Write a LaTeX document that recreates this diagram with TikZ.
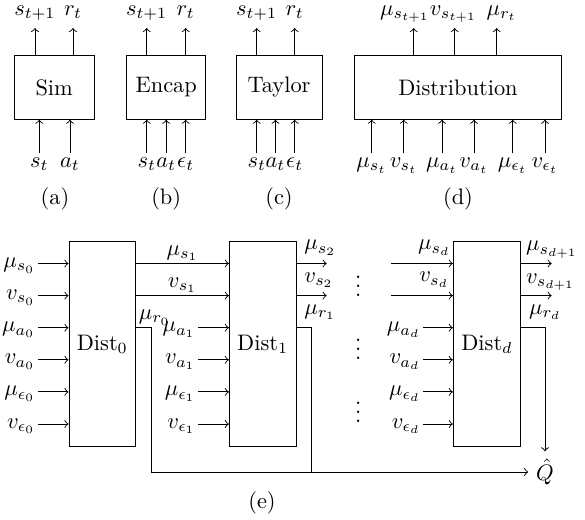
\documentclass[tikz,border=0pt]{standalone}
\begin{document}
\def\pxu{0.4464pt}
\begin{tikzpicture}[x=0.4464pt, y=-0.4464pt,
  blk/.style={draw, inner sep=0pt},
  olab/.style={anchor=south, inner sep=3pt, text depth=2.5pt},
  ilab/.style={anchor=north, inner sep=2pt},
  llab/.style={anchor=east, inner sep=1pt, text height=5.5pt, text depth=1.9pt},
  tag/.style={inner sep=0pt}]
\useasboundingbox (0,0) rectangle (585,520);

% ---------- (a) Sim ----------
\node[blk, minimum width=80*\pxu, minimum height=63.5*\pxu] (sim) at (54.2,87.5) {Sim};
\node[olab] (ao1) at (35,28) {$s_{t+1}$};
\node[olab] (ao2) at (73,28) {$r_t$};
\draw[->] (ao1 |- sim.north) -- (ao1.south);
\draw[->] (ao2 |- sim.north) -- (ao2.south);
\node[ilab] (ai1) at (39.3,153) {$s_t$};
\node[ilab] (ai2) at (70,153) {$a_t$};
\draw[->] (ai1.north) -- (ai1 |- sim.south);
\draw[->] (ai2.north) -- (ai2 |- sim.south);
\node[tag] (capa) at (55,199) {(a)};

% ---------- (b) Encap ----------
\node[blk, minimum width=79*\pxu, minimum height=63.5*\pxu] (enc) at (166.2,87.5) {Encap};
\node[olab] (bo1) at (146.7,28) {$s_{t+1}$};
\node[olab] (bo2) at (185.7,28) {$r_t$};
\draw[->] (bo1 |- enc.north) -- (bo1.south);
\draw[->] (bo2 |- enc.north) -- (bo2.south);
\node[ilab] (bi1) at (146.7,153) {$s_t$};
\node[ilab] (bi2) at (166.2,153) {$a_t$};
\node[ilab] (bi3) at (185.7,153) {$\epsilon_t$};
\draw[->] (bi1.north) -- (bi1 |- enc.south);
\draw[->] (bi2.north) -- (bi2 |- enc.south);
\draw[->] (bi3.north) -- (bi3 |- enc.south);
\node[tag] (capb) at (166.2,199) {(b)};

% ---------- (c) Taylor ----------
\node[blk, minimum width=86*\pxu, minimum height=63.5*\pxu] (tay) at (279,87.5) {Taylor};
\node[olab] (co1) at (256.7,28) {$s_{t+1}$};
\node[olab] (co2) at (294.7,28) {$r_t$};
\draw[->] (co1 |- tay.north) -- (co1.south);
\draw[->] (co2 |- tay.north) -- (co2.south);
\node[ilab] (ci1) at (256.7,153) {$s_t$};
\node[ilab] (ci2) at (275.5,153) {$a_t$};
\node[ilab] (ci3) at (294.7,153) {$\epsilon_t$};
\draw[->] (ci1.north) -- (ci1 |- tay.south);
\draw[->] (ci2.north) -- (ci2 |- tay.south);
\draw[->] (ci3.north) -- (ci3 |- tay.south);
\node[tag] (capc) at (279,199) {(c)};

% ---------- (d) Distribution ----------
\node[blk, minimum width=207.4*\pxu, minimum height=63.5*\pxu] (dst) at (458,87.5) {Distribution};
\coordinate (dp1) at (413.7,28);
\coordinate (dp2) at (454.7,28);
\coordinate (dp3) at (496.7,28);
\node[olab] (do1) at (405,28) {$\mu_{s_{t+1}}$};
\node[olab] (do2) at (453.5,28) {$v_{s_{t+1}}$};
\node[olab] (do3) at (501.7,28) {$\mu_{r_t}$};
\draw[->] (dp1 |- dst.north) -- (dp1);
\draw[->] (dp2 |- dst.north) -- (dp2);
\draw[->] (dp3 |- dst.north) -- (dp3);
\node[ilab] (di1) at (371.7,153) {$\mu_{s_t}$};
\node[ilab] (di2) at (403.7,153) {$v_{s_t}$};
\node[ilab] (di3) at (442,153) {$\mu_{a_t}$};
\node[ilab] (di4) at (474,153) {$v_{a_t}$};
\node[ilab] (di5) at (512.7,153) {$\mu_{\epsilon_t}$};
\node[ilab] (di6) at (545,153) {$v_{\epsilon_t}$};
\foreach \n in {di1,di2,di3,di4,di5,di6}
  \draw[->] (\n.north) -- (\n |- dst.south);
\node[tag] (capd) at (458,199) {(d)};

% ---------- (e) chain of Dist blocks ----------
\coordinate (r1) at (0,263.5);
\coordinate (r2) at (0,295.6);
\coordinate (r3) at (0,327.7);
\coordinate (r4) at (0,359.8);
\coordinate (r5) at (0,391.9);
\coordinate (r6) at (0,424);

\node[blk, minimum width=66.7*\pxu, minimum height=205*\pxu] (d0) at (102.3,344.2) {Dist$_0$};
\node[blk, minimum width=66.7*\pxu, minimum height=205*\pxu] (d1) at (262.7,344.2) {Dist$_1$};
\node[blk, minimum width=67.4*\pxu, minimum height=205*\pxu] (dd) at (487,344.2) {Dist$_d$};
\node (Q) at (545,472) {$\hat{Q}$};

% inputs of Dist_0
\node[llab] (l01) at (38,263.5) {$\mu_{s_0}$};
\node[llab] (l02) at (38,295.6) {$v_{s_0}$};
\node[llab] (l03) at (38,327.7) {$\mu_{a_0}$};
\node[llab] (l04) at (38,359.8) {$v_{a_0}$};
\node[llab] (l05) at (38,391.9) {$\mu_{\epsilon_0}$};
\node[llab] (l06) at (38,424) {$v_{\epsilon_0}$};
\foreach \n in {l01,l02,l03,l04,l05,l06}
  \draw[->] (\n.east) -- (\n.east -| d0.west);

% Dist_0 -> Dist_1
\draw[->] (d0.east |- r1) -- node[above, inner sep=1pt] {$\mu_{s_1}$} (d1.west |- r1);
\draw[->] (d0.east |- r2) -- node[above, inner sep=1pt] {$v_{s_1}$} (d1.west |- r2);
\draw[->] (d0.east |- r3) node[above right, inner sep=1pt] {$\mu_{r_0}$}
  -- ++(15,0) |- (Q.west);

% inputs of Dist_1
\node[llab] (l13) at (198.3,327.7) {$\mu_{a_1}$};
\node[llab] (l14) at (198.3,359.8) {$v_{a_1}$};
\node[llab] (l15) at (198.3,391.9) {$\mu_{\epsilon_1}$};
\node[llab] (l16) at (198.3,424) {$v_{\epsilon_1}$};
\foreach \n in {l13,l14,l15,l16}
  \draw[->] (\n.east) -- (\n.east -| d1.west);

% outputs of Dist_1
\coordinate (e1) at (326.7,0);
\draw[->] (d1.east |- r1) node[above right] {$\mu_{s_2}$} -- (e1 |- r1);
\draw[->] (d1.east |- r2) node[above right] {$v_{s_2}$} -- (e1 |- r2);
\draw (d1.east |- r3) node[above right] {$\mu_{r_1}$} -- ++(14.7,0) coordinate (k1) -- (k1 |- Q.west);

% elided stages
\node (vd1) at (358.3,280) {$\vdots$};
\node (vd2) at (358.3,343) {$\vdots$};
\node (vd3) at (358.3,406) {$\vdots$};

% inputs of Dist_d
\coordinate (sd) at (391,0);
\draw[->] (sd |- r1) -- node[above, pos=0.7] {$\mu_{s_d}$} (dd.west |- r1);
\draw[->] (sd |- r2) -- node[above, pos=0.7] {$v_{s_d}$} (dd.west |- r2);
\node[llab] (ld3) at (423.3,327.7) {$\mu_{a_d}$};
\node[llab] (ld4) at (423.3,359.8) {$v_{a_d}$};
\node[llab] (ld5) at (423.3,391.9) {$\mu_{\epsilon_d}$};
\node[llab] (ld6) at (423.3,424) {$v_{\epsilon_d}$};
\foreach \n in {ld3,ld4,ld5,ld6}
  \draw[->] (\n.east) -- (\n.east -| dd.west);

% outputs of Dist_d
\coordinate (ed) at (551.7,0);
\draw[->] (dd.east |- r1) node[above right, inner sep=2pt] {$\mu_{s_{d+1}}$} -- (ed |- r1);
\draw[->] (dd.east |- r2) node[above right, inner sep=2pt] {$v_{s_{d+1}}$} -- (ed |- r2);
\draw[->] (dd.east |- r3) node[above right] {$\mu_{r_d}$} -| (Q.north);

\node[tag] (cape) at (262,503) {(e)};
\end{tikzpicture}
\end{document}
